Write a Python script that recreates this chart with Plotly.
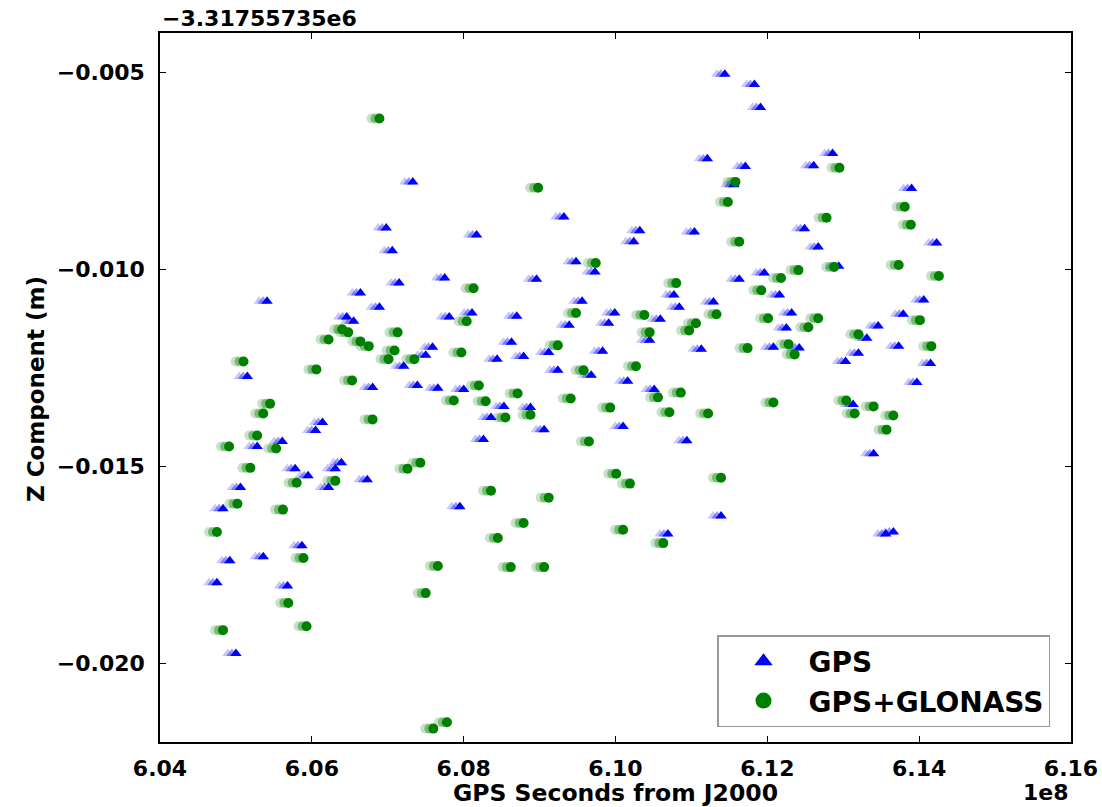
import plotly.graph_objects as go

# ---- data (x in units of 1e8 s, y relative to offset -3.31755735e6 m) ----
gps_x = [6.0475, 6.0483, 6.0492, 6.0500, 6.0506, 6.0515, 6.0528, 6.0536, 6.0541, 6.0561,
         6.0568, 6.0578, 6.0587, 6.0595, 6.0605, 6.0614, 6.0622, 6.0631, 6.0639, 6.0646,
         6.0655, 6.0664, 6.0673, 6.0680, 6.0689, 6.0698, 6.0706, 6.0715, 6.0721, 6.0733,
         6.0739, 6.0750, 6.0759, 6.0766, 6.0775, 6.0781, 6.0795, 6.0800, 6.0811, 6.0817,
         6.0826, 6.0836, 6.0844, 6.0853, 6.0863, 6.0870, 6.0879, 6.0888, 6.0896, 6.0906,
         6.0912, 6.0924, 6.0932, 6.0939, 6.0948, 6.0956, 6.0968, 6.0973, 6.0983, 6.0991,
         6.0999, 6.1010, 6.1016, 6.1024, 6.1032, 6.1045, 6.1051, 6.1059, 6.1069, 6.1077,
         6.1084, 6.1094, 6.1104, 6.1113, 6.1121, 6.1129, 6.1139, 6.1144, 6.1156, 6.1163,
         6.1171, 6.1183, 6.1191, 6.1196, 6.1208, 6.1216, 6.1225, 6.1232, 6.1242, 6.1249,
         6.1261, 6.1267, 6.1286, 6.1294, 6.1303, 6.1313, 6.1320, 6.1331, 6.1340, 6.1346,
         6.1356, 6.1366, 6.1373, 6.1379, 6.1390, 6.1397, 6.1406, 6.1415, 6.1423]
gps_z = [-0.01796, -0.01608, -0.01740, -0.01975, -0.01554, -0.01272, -0.01450, -0.01730, -0.01081, -0.01437,
         -0.01804, -0.01506, -0.01702, -0.01524, -0.01409, -0.01389, -0.01554, -0.01506, -0.01491, -0.01121,
         -0.01132, -0.01060, -0.01534, -0.01300, -0.01096, -0.00895, -0.00953, -0.01035, -0.01246, -0.00778,
         -0.01295, -0.01218, -0.01198, -0.01302, -0.01022, -0.01121, -0.01603, -0.01305, -0.01111, -0.00913,
         -0.01432, -0.01376, -0.01228, -0.01348, -0.01185, -0.01119, -0.01221, -0.01351, -0.01025, -0.01407,
         -0.01211, -0.01256, -0.00867, -0.01142, -0.00981, -0.01081, -0.01269, -0.01007, -0.01208, -0.01137,
         -0.01111, -0.01399, -0.01284, -0.00930, -0.00902, -0.01180, -0.01305, -0.01127, -0.01672, -0.01065,
         -0.01096, -0.01435, -0.00905, -0.01203, -0.00719, -0.01083, -0.01626, -0.00505, -0.00785, -0.01025,
         -0.00739, -0.00531, -0.00589, -0.01009, -0.01198, -0.01065, -0.01149, -0.01111, -0.01200, -0.00897,
         -0.00737, -0.00943, -0.00706, -0.00992, -0.01234, -0.01343, -0.01213, -0.01175, -0.01468, -0.01144,
         -0.01672, -0.01667, -0.01195, -0.01114, -0.00795, -0.01287, -0.01078, -0.01239, -0.00933]

glo_x = [6.0475, 6.0483, 6.0491, 6.0502, 6.0510, 6.0519, 6.0528, 6.0536, 6.0545, 6.0553,
         6.0562, 6.0569, 6.0580, 6.0589, 6.0593, 6.0606, 6.0622, 6.0631, 6.0640, 6.0648,
         6.0653, 6.0664, 6.0675, 6.0680, 6.0689, 6.0701, 6.0709, 6.0713, 6.0726, 6.0735,
         6.0743, 6.0750, 6.0760, 6.0766, 6.0778, 6.0787, 6.0797, 6.0804, 6.0813, 6.0820,
         6.0829, 6.0836, 6.0845, 6.0855, 6.0862, 6.0871, 6.0879, 6.0888, 6.0898, 6.0906,
         6.0912, 6.0924, 6.0941, 6.0948, 6.0958, 6.0965, 6.0974, 6.0993, 6.1001, 6.1010,
         6.1019, 6.1027, 6.1038, 6.1045, 6.1056, 6.1063, 6.1071, 6.1080, 6.1086, 6.1097,
         6.1106, 6.1122, 6.1133, 6.1139, 6.1148, 6.1158, 6.1163, 6.1174, 6.1192, 6.1201,
         6.1208, 6.1218, 6.1228, 6.1236, 6.1241, 6.1254, 6.1267, 6.1278, 6.1288, 6.1295,
         6.1304, 6.1315, 6.1320, 6.1340, 6.1357, 6.1366, 6.1373, 6.1381, 6.1389, 6.1401,
         6.1416, 6.1426]
glo_z = [-0.01667, -0.01916, -0.01450, -0.01595, -0.01234, -0.01504, -0.01422, -0.01366, -0.01341, -0.01455,
         -0.01610, -0.01847, -0.01542, -0.01733, -0.01906, -0.01254, -0.01178, -0.01537, -0.01152, -0.01160,
         -0.01282, -0.01183, -0.01195, -0.01381, -0.00617, -0.01228, -0.01206, -0.01160, -0.01506, -0.01228,
         -0.01491, -0.01822, -0.02166, -0.01753, -0.02150, -0.01333, -0.01211, -0.01132, -0.01048, -0.01295,
         -0.01335, -0.01562, -0.01682, -0.01376, -0.01756, -0.01315, -0.01644, -0.01369, -0.00793, -0.01756,
         -0.01580, -0.01193, -0.01328, -0.01111, -0.01256, -0.01437, -0.00984, -0.01351, -0.01519, -0.01661,
         -0.01544, -0.01246, -0.01116, -0.01160, -0.01325, -0.01695, -0.01363, -0.01035, -0.01313, -0.01155,
         -0.01137, -0.01366, -0.01114, -0.01529, -0.00829, -0.00778, -0.00930, -0.01200, -0.01053, -0.01124,
         -0.01338, -0.01022, -0.01190, -0.01216, -0.01002, -0.01147, -0.01124, -0.00869, -0.00994, -0.00742,
         -0.01333, -0.01366, -0.01165, -0.01348, -0.01407, -0.01371, -0.00989, -0.00841, -0.00887, -0.01129,
         -0.01195, -0.01017]

series_names = ["GPS", "GPS+GLONASS"]
offset_label = "\u22123.31755735e6"
x_scale_label = "1e8"

W, H = 1102, 807
ML, MR, MT, MB = 152, 31, 33, 65
PW = W - ML - MR
PH = H - MT - MB
SHIFT = 8 / PW          # total trail length as paper fraction
XR = [6.04, 6.16]
YR = [-0.022, -0.004]

fig = go.Figure()

# faint trailing "ghost" copies, drawn on hidden x axes whose domains are shifted left
ghosts = [("x", 0.22), ("x2", 0.40)]
for ax, op in ghosts:
    fig.add_trace(go.Scatter(x=gps_x, y=gps_z, mode="markers", xaxis=ax, yaxis="y",
                             marker=dict(symbol="triangle-up", size=10, color="#0000ff", opacity=op,
                                         line=dict(width=0)),
                             showlegend=False, hoverinfo="skip"))
    fig.add_trace(go.Scatter(x=glo_x, y=glo_z, mode="markers", xaxis=ax, yaxis="y",
                             marker=dict(symbol="circle", size=10, color="#008000", opacity=op,
                                         line=dict(width=0)),
                             showlegend=False, hoverinfo="skip"))

fig.add_trace(go.Scatter(x=gps_x, y=gps_z, mode="markers", name=series_names[0], xaxis="x3", yaxis="y",
                         marker=dict(symbol="triangle-up", size=10, color="#0000ff", line=dict(width=0)),
                         showlegend=False))
fig.add_trace(go.Scatter(x=glo_x, y=glo_z, mode="markers", name=series_names[1], xaxis="x3", yaxis="y",
                         marker=dict(symbol="circle", size=10, color="#008000", line=dict(width=0)),
                         showlegend=False))

# legend entries with larger symbols
fig.add_trace(go.Scatter(x=[None], y=[None], mode="markers", name=series_names[0], xaxis="x3", yaxis="y",
                         marker=dict(symbol="triangle-up", size=18, color="#0000ff", line=dict(width=0))))
fig.add_trace(go.Scatter(x=[None], y=[None], mode="markers", name=series_names[1], xaxis="x3", yaxis="y",
                         marker=dict(symbol="circle", size=18, color="#008000", line=dict(width=0))))

axis_font = dict(family="DejaVu Sans", size=22, color="black", weight="bold")
hidden = dict(range=XR, visible=False, showgrid=False, zeroline=False, anchor="y", automargin=False)

fig.update_layout(
    width=W, height=H,
    margin=dict(l=ML, r=MR, t=MT, b=MB, autoexpand=False),
    paper_bgcolor="white", plot_bgcolor="rgba(0,0,0,0)",
    font=dict(family="DejaVu Sans", color="black"),
    xaxis=dict(domain=[0, 1 - SHIFT], **hidden),
    xaxis2=dict(domain=[SHIFT / 2, 1 - SHIFT / 2], **hidden),
    xaxis3=dict(domain=[SHIFT, 1], range=XR, dtick=0.02, tick0=6.0, tickformat=".2f", anchor="y",
                automargin=False,
                showgrid=False, zeroline=False, showline=True, linecolor="black", linewidth=1.5,
                mirror="ticks", ticks="inside", ticklen=6, tickwidth=1, tickcolor="black",
                tickfont=axis_font, ticklabelstandoff=6,
                title=dict(text="GPS Seconds from J2000", font=dict(family="DejaVu Sans", size=23.5,
                                                                     color="black", weight="bold"),
                           standoff=2)),
    yaxis=dict(range=YR, dtick=0.005, tick0=0, tickformat=".3f", anchor="x3", automargin=False,
               showgrid=False, zeroline=False, showline=True, linecolor="black", linewidth=1.5,
               mirror="ticks", ticks="inside", ticklen=6, tickwidth=1, tickcolor="black",
               tickfont=axis_font, ticklabelstandoff=9),
    legend=dict(x=(717 - ML) / PW, y=(742 - 727) / PH, xanchor="left", yanchor="bottom",
                bgcolor="white", bordercolor="#999999", borderwidth=1.5,
                font=dict(family="DejaVu Sans", size=28, color="black", weight="bold"),
                itemsizing="trace", itemwidth=80, tracegroupgap=0),
    showlegend=True,
)

fig.add_annotation(text=offset_label, xref="paper", yref="paper", x=SHIFT, y=1,
                   xanchor="left", yanchor="bottom", yshift=0, showarrow=False,
                   font=dict(family="DejaVu Sans", size=22, color="black", weight="bold"))
fig.add_annotation(text=x_scale_label, xref="paper", yref="paper", x=1, y=0,
                   xanchor="right", yanchor="top", yshift=-36, showarrow=False,
                   font=dict(family="DejaVu Sans", size=22, color="black", weight="bold"))
fig.add_annotation(text="Z Component (m)", xref="paper", yref="paper", x=0, y=(742 - 389) / PH,
                   xanchor="center", yanchor="middle", xshift=36 - ML, textangle=-90, showarrow=False,
                   font=dict(family="DejaVu Sans", size=23, color="black", weight="bold"))

fig.write_html("out.html", config={"displayModeBar": False},
               post_script="document.body.style.margin='0';")
